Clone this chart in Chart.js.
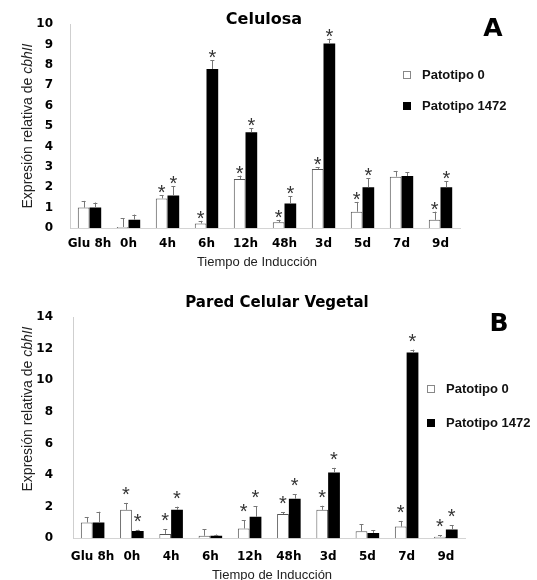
<!DOCTYPE html>
<html>
<head>
<meta charset="utf-8">
<script src="https://cdn.jsdelivr.net/npm/chart.js@4.4.1/dist/chart.umd.min.js"></script>
<style>
  body { margin: 0; background: #fff; width: 537px; height: 580px; position: relative; overflow: hidden; }
  canvas { position: absolute; left: 0; }
  #chartA { top: 0; }
  #chartB { top: 290px; }
</style>
</head>
<body>
<canvas id="chartA" width="537" height="270"></canvas>
<canvas id="chartB" width="537" height="290"></canvas>
<script>
const categories = ["Glu 8h", "0h", "4h", "6h", "12h", "48h", "3d", "5d", "7d", "9d"];
const seriesNames = ["Patotipo 0", "Patotipo 1472"];

// Celulosa
const celP0 = [1.0, 0.05, 1.45, 0.22, 2.4, 0.28, 2.9, 0.8, 2.52, 0.4];
const celP0Sd = [0.33, 0.43, 0.15, 0.13, 0.17, 0.12, 0.07, 0.48, 0.28, 0.4];
const celP1472 = [1.0, 0.41, 1.6, 7.8, 4.7, 1.2, 9.05, 2.0, 2.55, 2.0];
const celP1472Sd = [0.25, 0.25, 0.45, 0.44, 0.2, 0.35, 0.24, 0.45, 0.18, 0.3];
const celStars = [0, 0, 1, 1, 1, 1, 1, 1, 0, 1];

// Pared Celular Vegetal
const pcvP0 = [1.0, 1.8, 0.28, 0.16, 0.62, 1.54, 1.8, 0.44, 0.74, 0.1];
const pcvP0Sd = [0.35, 0.44, 0.28, 0.4, 0.52, 0.1, 0.26, 0.46, 0.36, 0.1];
const pcvP1472 = [1.0, 0.46, 1.8, 0.16, 1.36, 2.5, 4.16, 0.34, 11.76, 0.56];
const pcvP1472Sd = [0.68, 0.08, 0.2, 0.08, 0.68, 0.3, 0.3, 0.16, 0.18, 0.28];
const pcvStars = [0, 1, 1, 0, 1, 1, 1, 0, 1, 1];

const heavy = "'DejaVu Sans', sans-serif";
const plain = "'Liberation Sans', Arial, sans-serif";

const extrasPlugin = {
  id: "extras",
  afterDatasetsDraw(chart, args, opts) {
    const ctx = chart.ctx;
    const y = chart.scales.y;
    ctx.save();
    chart.data.datasets.forEach((ds, di) => {
      const meta = chart.getDatasetMeta(di);
      meta.data.forEach((bar, i) => {
        const top = y.getPixelForValue(ds.data[i] + ds.sd[i]);
        ctx.strokeStyle = "#777";
        ctx.lineWidth = 1;
        ctx.beginPath();
        ctx.moveTo(Math.round(bar.x) + 0.5, bar.y);
        ctx.lineTo(Math.round(bar.x) + 0.5, top);
        ctx.moveTo(bar.x - 2, Math.round(top) + 0.5);
        ctx.lineTo(bar.x + 2, Math.round(top) + 0.5);
        ctx.stroke();
        if (opts.stars[i]) {
          ctx.fillStyle = "#333";
          ctx.font = "20px " + plain;
          ctx.textAlign = "center";
          ctx.textBaseline = "alphabetic";
          ctx.fillText("*", bar.x, top - opts.starGap + 11);
        }
      });
    });

    // title and panel letter
    ctx.fillStyle = "#000";
    ctx.textAlign = "center";
    ctx.textBaseline = "middle";
    ctx.font = "bold " + opts.titleSize + "px " + heavy;
    ctx.fillText(opts.title, opts.titleX, opts.titleY);
    ctx.font = "bold 25px " + heavy;
    ctx.fillText(opts.letter, opts.letterX, opts.letterY);

    // legend
    ctx.textAlign = "left";
    ctx.font = "bold 13px " + plain;
    opts.legendY.forEach((ly, k) => {
      if (k === 0) {
        ctx.fillStyle = "#fff";
        ctx.fillRect(opts.legendX, ly - 4, 7, 7);
        ctx.strokeStyle = "#888";
        ctx.strokeRect(opts.legendX + 0.5, ly - 3.5, 7, 7);
      } else {
        ctx.fillStyle = "#000";
        ctx.fillRect(opts.legendX, ly - 4, 8, 8);
      }
      ctx.fillStyle = "#111";
      ctx.fillText(seriesNames[k], opts.legendX + 19, ly);
    });

    // x axis title
    ctx.textAlign = "center";
    ctx.font = "13px " + plain;
    ctx.fillStyle = "#222";
    ctx.fillText("Tiempo de Inducción", opts.xTitleX, opts.xTitleY);

    // y axis title with italic gene name
    const a = "Expresión relativa de ";
    const b = "cbhII";
    ctx.font = "14px " + plain;
    const wa = ctx.measureText(a).width;
    ctx.font = "italic 14px " + plain;
    const wb = ctx.measureText(b).width;
    ctx.translate(opts.yTitleX, opts.yTitleY);
    ctx.rotate(-Math.PI / 2);
    ctx.textAlign = "left";
    ctx.font = "14px " + plain;
    ctx.fillText(a, -(wa + wb) / 2, 0);
    ctx.font = "italic 14px " + plain;
    ctx.fillText(b, -(wa + wb) / 2 + wa, 0);
    ctx.restore();
  }
};

function makeChart(id, p0, p0Sd, p1472, p1472Sd, yMax, yStep, box, extras) {
  return new Chart(document.getElementById(id), {
    type: "bar",
    data: {
      labels: categories,
      datasets: [
        {
          label: seriesNames[0],
          data: p0,
          sd: p0Sd,
          backgroundColor: "#fff",
          borderColor: "#555",
          borderWidth: 1,
        },
        {
          label: seriesNames[1],
          data: p1472,
          sd: p1472Sd,
          backgroundColor: "#000",
          borderColor: "#000",
          borderWidth: 0,
        },
      ],
    },
    options: {
      responsive: false,
      animation: false,
      events: [],
      layout: { padding: { top: box.top, right: box.right, left: 0, bottom: 0 } },
      categoryPercentage: 0.6,
      barPercentage: 1.0,
      plugins: {
        legend: { display: false },
        tooltip: { enabled: false },
        extras: extras,
      },
      scales: {
        x: {
          grid: { display: false, drawTicks: false },
          border: { color: "#d4d4d4" },
          ticks: { color: "#000", font: { family: heavy, size: 12, weight: "bold" }, padding: box.xPad, maxRotation: 0, autoSkip: false },
          afterFit(scale) { scale.height = box.xHeight; },
        },
        y: {
          min: 0,
          max: yMax,
          grid: { display: false, drawTicks: false },
          border: { color: "#cfcfcf" },
          ticks: { stepSize: yStep, color: "#000", font: { family: heavy, size: 12, weight: "bold" }, padding: box.yPad },
          afterFit(scale) { scale.width = box.yWidth; },
        },
      },
    },
    plugins: [extrasPlugin],
  });
}

makeChart("chartA", celP0, celP0Sd, celP1472, celP1472Sd, 10, 1,
  { top: 18, right: 77, xHeight: 42, xPad: 9, yWidth: 70, yPad: 17 },
  {
    stars: celStars, starGap: 7,
    title: "Celulosa", titleSize: 16, titleX: 264, titleY: 20,
    letter: "A", letterX: 493, letterY: 29,
    legendX: 403, legendY: [75, 106],
    xTitleX: 257, xTitleY: 262,
    yTitleX: 28, yTitleY: 126,
  });

makeChart("chartB", pcvP0, pcvP0Sd, pcvP1472, pcvP1472Sd, 14, 2,
  { top: 15, right: 71.5, xHeight: 41.7, xPad: 11, yWidth: 73, yPad: 20 },
  {
    stars: pcvStars, starGap: 13,
    title: "Pared Celular Vegetal", titleSize: 15, titleX: 277, titleY: 13,
    letter: "B", letterX: 499, letterY: 34,
    legendX: 427, legendY: [99, 133],
    xTitleX: 272, xTitleY: 285,
    yTitleX: 28, yTitleY: 119,
  });
</script>
</body>
</html>
